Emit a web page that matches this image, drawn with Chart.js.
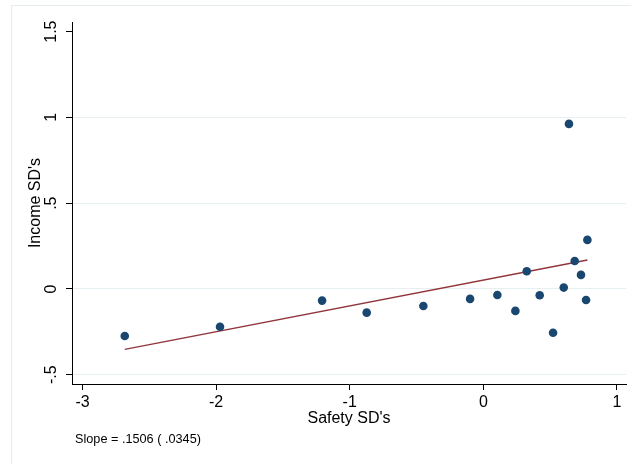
<!DOCTYPE html>
<html lang="en">
<head>
    <meta charset="UTF-8">
    <title>Income vs Safety SD's</title>
    <script src="https://cdn.jsdelivr.net/npm/chart.js"></script>
    <style>
        body {
            margin: 0;
            background-color: #fff;
        }
        #scatter {
            display: block;
        }
    </style>
</head>
<body>
    <canvas id="scatter" width="631" height="464"></canvas>

    <script>
        // values
        const safetySD = [-2.684, -1.971, -1.207, -0.873, -0.449, -0.099, 0.105, 0.240, 0.325,
                          0.422, 0.522, 0.602, 0.641, 0.684, 0.731, 0.769, 0.779];
        const incomeSD = [-0.274, -0.220, -0.068, -0.138, -0.099, -0.058, -0.035, -0.128, 0.103,
                          -0.037, -0.255, 0.008, 0.962, 0.163, 0.082, -0.064, 0.286];
        const fitX = [-2.684, 0.779];
        const fitY = [-0.352, 0.169];
        const xTicks = [-3, -2, -1, 0, 1];
        const yTicks = [-0.5, 0, 0.5, 1, 1.5];
        const yTickLabels = ['-.5', '0', '.5', '1', '1.5'];
        const xTitle = "Safety SD's";
        const yTitle = "Income SD's";
        const note = 'Slope = .1506 ( .0345)';

        const font = "'Liberation Sans', Arial, sans-serif";

        // frame, rotated y labels, titles and the note
        const extras = {
            id: 'extras',
            beforeDraw(chart) {
                const c = chart.ctx;
                c.save();
                c.strokeStyle = '#e4ecee';
                c.lineWidth = 1;
                c.strokeRect(11.5, 5.5, 700, 500);
                c.restore();
            },
            afterDraw(chart) {
                const c = chart.ctx;
                const y = chart.scales.y;
                const area = chart.chartArea;
                c.save();
                c.fillStyle = '#000';
                c.textAlign = 'center';
                c.textBaseline = 'middle';
                c.font = '16px ' + font;
                yTicks.forEach((v, i) => {
                    c.save();
                    c.translate(52, y.getPixelForValue(v));
                    c.rotate(-Math.PI / 2);
                    c.fillText(yTickLabels[i], 0, 0);
                    c.restore();
                });
                c.save();
                c.translate(36, (area.top + area.bottom) / 2);
                c.rotate(-Math.PI / 2);
                c.fillText(yTitle, 0, 0);
                c.restore();
                c.fillText(xTitle, (area.left + area.right) / 2, 419);
                c.textAlign = 'left';
                c.font = '12.7px ' + font;
                c.fillText(note, 75, 439);
                c.restore();
            }
        };

        new Chart(document.getElementById('scatter'), {
            type: 'scatter',
            data: {
                datasets: [{
                    data: safetySD.map((x, i) => ({ x: x, y: incomeSD[i] })),
                    backgroundColor: '#1a476f',
                    borderWidth: 0,
                    pointRadius: 4.3,
                    order: 1
                }, {
                    type: 'line',
                    data: fitX.map((x, i) => ({ x: x, y: fitY[i] })),
                    borderColor: '#90353b',
                    borderWidth: 1.4,
                    pointRadius: 0,
                    fill: false,
                    order: 2
                }]
            },
            options: {
                responsive: false,
                animation: false,
                layout: { padding: { left: 0, top: 22, right: 5, bottom: 0 } },
                plugins: {
                    legend: { display: false },
                    tooltip: { enabled: false }
                },
                scales: {
                    x: {
                        type: 'linear',
                        min: -3.079,
                        max: 1.068,
                        afterBuildTicks: s => { s.ticks = xTicks.map(v => ({ value: v })); },
                        afterFit: s => { s.height = 80; },
                        border: { display: true, color: '#000', width: 1 },
                        grid: { drawOnChartArea: false, tickLength: 6, tickColor: '#000' },
                        ticks: {
                            color: '#000',
                            padding: 3,
                            maxRotation: 0,
                            font: { family: font, size: 16 },
                            callback: v => String(v)
                        }
                    },
                    y: {
                        type: 'linear',
                        min: -0.554,
                        max: 1.556,
                        afterBuildTicks: s => { s.ticks = yTicks.map(v => ({ value: v })); },
                        afterFit: s => { s.width = 72; },
                        border: { display: true, color: '#000', width: 1 },
                        grid: {
                            color: ctx => (ctx.tick && ctx.tick.value === 1.5) ? 'rgba(0,0,0,0)' : '#e6eff1',
                            lineWidth: 1,
                            tickLength: 6,
                            tickColor: '#000'
                        },
                        ticks: { display: false }
                    }
                }
            },
            plugins: [extras]
        });
    </script>
</body>
</html>
